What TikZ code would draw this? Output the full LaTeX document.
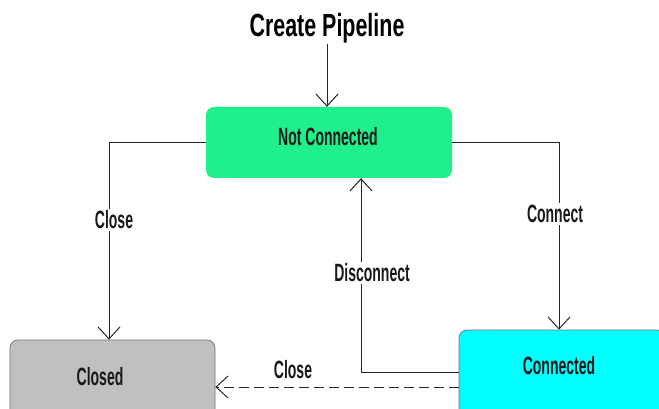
\documentclass[tikz,border=0pt]{standalone}
\usepackage{fontspec}
\usetikzlibrary{arrows.meta}
\newfontfamily\lblfont[FakeStretch=0.56]{Liberation Sans Bold}
\newfontfamily\ttlfont[FakeStretch=0.67]{Liberation Sans Bold}
\definecolor{ncgreen}{RGB}{32,240,140}
\definecolor{clgray}{RGB}{192,192,192}
\definecolor{cncyan}{RGB}{0,255,255}
\tikzset{
  statebox/.style={rounded corners=8pt, inner sep=0pt},
  lbl/.style={font=\lblfont\fontsize{25}{27}\selectfont, text=black!90, inner sep=2pt},
  edgelbl/.style={lbl, fill=white},
  flow/.style={draw=black!85, line width=1pt, -{Straight Barb[length=12pt,width=22pt,line width=1pt]}},
  link/.style={draw=black!85, line width=1pt},
}
\begin{document}
\begin{tikzpicture}[x=1pt,y=-1pt]
  \useasboundingbox (0,0) rectangle (659,409);
  \begin{scope}
  \clip (0,0) rectangle (659,409);
  % states
  \node[statebox, fill=ncgreen, minimum width=246pt, minimum height=71pt] (nc) at (329,142.5) {};
  \node[statebox, fill=clgray, draw=black!55, line width=0.7pt, minimum width=205pt, minimum height=90pt] (cl) at (112.5,385) {};
  \node[statebox, fill=cncyan, draw=black!55, line width=0.7pt, minimum width=206pt, minimum height=90pt] (cn) at (562,375) {};
  \node[lbl] (nct) at (328,137) {Not Connected};
  \node[lbl] (clt) at (100,377) {Closed};
  \node[lbl] (cnt) at (559,366) {Connected};
  \node[font=\ttlfont\fontsize{32}{34}\selectfont, inner sep=1pt] (cp) at (327,28) {Create Pipeline};

  \coordinate (dy) at (0,372);
  \coordinate (dx) at (361,0);
  \coordinate (cy) at (0,387);

  % connectors
  \draw[flow] (cp.south) -- (cp.south |- nc.north);
  \draw[flow] (nc.west) -| ([xshift=-3.5pt]cl.north);
  \draw[flow] (nc.east) -| ([xshift=-3pt]cn.north);
  \draw[flow] (cn.west |- dy) -| (nc.south -| dx);
  \draw[flow, dash pattern=on 10pt off 5pt] (cn.west |- cy) -- (cl.east |- cy);

  % edge labels
  \node[edgelbl] (lclose) at (114,220) {Close};
  \node[edgelbl] (lconnect) at (555,214) {Connect};
  \node[edgelbl] (ldisc) at (372,273) {Disconnect};
  \node[lbl] (lclose2) at (293,370) {Close};
  \end{scope}
\end{tikzpicture}
\end{document}
